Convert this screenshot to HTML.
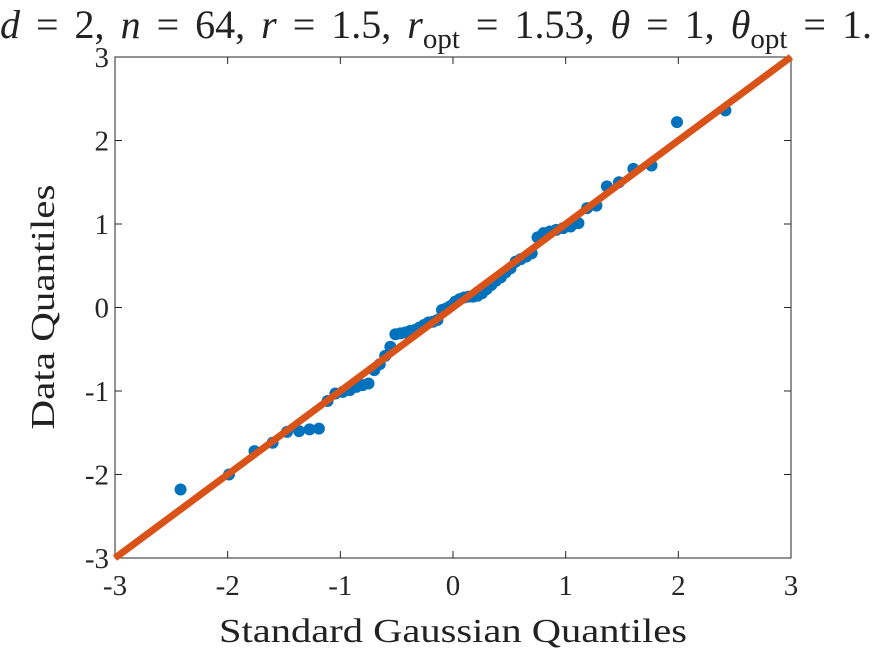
<!DOCTYPE html>
<html><head><meta charset="utf-8"><style>
body{margin:0;background:#fff;overflow:hidden;}
svg{display:block;font-family:"Liberation Serif",serif;}
</style></head><body>
<svg id="chart" width="875" height="656" viewBox="0 0 875 656">
<text x="0" y="38" font-size="40" fill="#222" word-spacing="6"><tspan font-style="italic">d</tspan> = 2,  <tspan font-style="italic">n</tspan> = 64,  <tspan font-style="italic">r</tspan> = 1.5,  <tspan font-style="italic">r</tspan><tspan font-size="29" dy="10">opt</tspan><tspan dy="-10"> = 1.53,  </tspan><tspan font-style="italic">θ</tspan> = 1,  <tspan font-style="italic">θ</tspan><tspan font-size="29" dy="10">opt</tspan><tspan dy="-10"> = 1.1</tspan></text>
<g id="axes"></g>
<g id="points"></g>
<g id="refline"></g>
<text x="453" y="642" font-size="34" text-anchor="middle" fill="#222" textLength="468" lengthAdjust="spacingAndGlyphs">Standard Gaussian Quantiles</text>
<text transform="translate(54,307) rotate(-90)" font-size="34" text-anchor="middle" fill="#222" textLength="245" lengthAdjust="spacingAndGlyphs">Data Quantiles</text>
</svg>
<script>
const xQuantiles=[-2.418,-1.988,-1.762,-1.601,-1.473,-1.366,-1.273,-1.190,-1.113,-1.044,-0.978,-0.916,-0.858,-0.803,-0.750,-0.699,-0.650,-0.602,-0.556,-0.511,-0.467,-0.424,-0.381,-0.340,-0.298,-0.258,-0.218,-0.178,-0.138,-0.098,-0.059,-0.020,0.020,0.059,0.098,0.138,0.178,0.218,0.258,0.298,0.340,0.381,0.424,0.467,0.511,0.556,0.602,0.650,0.699,0.750,0.803,0.858,0.916,0.978,1.044,1.113,1.190,1.273,1.366,1.473,1.601,1.762,1.988,2.418];
const yQuantiles=[-2.18,-2.0,-1.72,-1.62,-1.49,-1.48,-1.46,-1.45,-1.12,-1.03,-1.01,-0.99,-0.95,-0.93,-0.91,-0.75,-0.68,-0.58,-0.47,-0.32,-0.31,-0.30,-0.28,-0.27,-0.24,-0.21,-0.18,-0.17,-0.15,-0.03,-0.01,0.02,0.07,0.10,0.12,0.13,0.13,0.14,0.17,0.22,0.27,0.32,0.36,0.42,0.47,0.55,0.58,0.61,0.65,0.84,0.89,0.91,0.93,0.95,0.97,1.01,1.19,1.22,1.45,1.50,1.66,1.70,2.22,2.36];
const xTicks=[-3,-2,-1,0,1,2,3];
const yTicks=[-3,-2,-1,0,1,2,3];
const refLine=[-3,3];
const X0=115,X1=791,Y0=558,Y1=57,xmin=-3,xmax=3,ymin=-3,ymax=3;
const sx=v=>X0+(v-xmin)/(xmax-xmin)*(X1-X0);
const sy=v=>Y0-(v-ymin)/(ymax-ymin)*(Y0-Y1);
const NS="http://www.w3.org/2000/svg";
function mk(t,a,p){const e=document.createElementNS(NS,t);for(const k in a)e.setAttribute(k,a[k]);p.appendChild(e);return e;}
const ax=document.getElementById('axes');
const box=mk('rect',{x:X0,y:Y1,width:X1-X0,height:Y0-Y1,fill:'none',stroke:'#262626','stroke-width':1},ax);


xTicks.forEach(t=>{
 const x=sx(t);
 mk('line',{x1:x,x2:x,y1:Y0,y2:Y0-7,stroke:'#262626'},ax);
 mk('line',{x1:x,x2:x,y1:Y1,y2:Y1+7,stroke:'#262626'},ax);
 const l=mk('text',{x:x,y:Y0+37,'font-size':29,'text-anchor':'middle',fill:'#262626'},ax);
 l.textContent=t;
 
 
});
yTicks.forEach(t=>{
 const y=sy(t);
 mk('line',{x1:X0,x2:X0+7,y1:y,y2:y,stroke:'#262626'},ax);
 mk('line',{x1:X1,x2:X1-7,y1:y,y2:y,stroke:'#262626'},ax);
 const l=mk('text',{x:X0-6,y:y+10,'font-size':29,'text-anchor':'end',fill:'#262626'},ax);
 l.textContent=t;
 
 
});
const pg=document.getElementById('points');
xQuantiles.forEach((xv,i)=>{
 const c=mk('circle',{cx:sx(xv),cy:sy(yQuantiles[i]),r:6,fill:'#0072BD'},pg);
 
 
});
const ln=mk('line',{x1:sx(refLine[0]),y1:sy(refLine[0]),x2:sx(refLine[1]),y2:sy(refLine[1]),stroke:'#D95319','stroke-width':7},document.getElementById('refline'));


</script>
</body></html>
